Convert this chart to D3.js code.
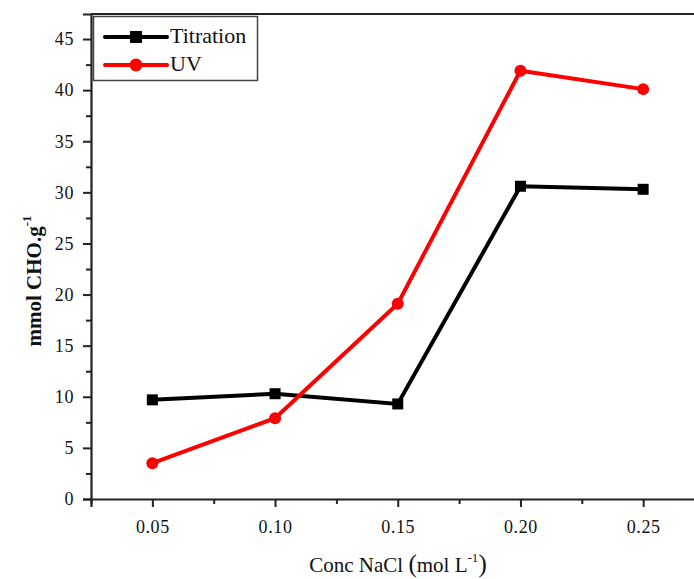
<!DOCTYPE html>
<html>
<head>
<meta charset="utf-8">
<script src="https://cdn.jsdelivr.net/npm/d3@7"></script>
<style>
  html, body { margin: 0; padding: 0; background: #fff; }
  svg { display: block; }
  text { font-family: "Liberation Serif", "Times New Roman", serif; fill: #111; }
</style>
</head>
<body>
<svg id="chart" width="694" height="579"></svg>
<script>
// NaCl concentration (mol/L)
const conc = [0.05, 0.10, 0.15, 0.20, 0.25];
// mmol CHO per g
const titration = [9.7, 10.3, 9.3, 30.6, 30.3];
const uv = [3.5, 7.9, 19.1, 41.9, 40.1];
const xTicks = [0.05, 0.10, 0.15, 0.20, 0.25];
const yTicks = [0, 5, 10, 15, 20, 25, 30, 35, 40, 45];
const seriesNames = ["Titration", "UV"];

const svg = d3.select("#chart");

const x = d3.scaleLinear().domain([0.025, 0.275]).range([91, 91 + 0.25 * 2454]);
const y = d3.scaleLinear().domain([0, 47.45]).range([499, 14]);

// frame: top edge
svg.append("line")
  .attr("x1", x(0.025)).attr("x2", x(0.275))
  .attr("y1", y(47.45)).attr("y2", y(47.45))
  .attr("stroke", "#222").attr("stroke-width", 2);

const styleTicks = g => g.selectAll(".tick text")
  .attr("font-size", 18).attr("fill", "#222")
  .style("font-family", "Liberation Serif").style("letter-spacing", "0.6px");

// x axis
svg.append("g").attr("transform", `translate(0,${y(0)})`)
  .call(d3.axisBottom(x).tickValues(xTicks).tickFormat(d3.format(".2f")).tickSize(8).tickPadding(13))
  .call(g => g.select(".domain").attr("stroke-width", 2.2).attr("stroke", "#222"))
  .call(g => g.selectAll(".tick line").attr("stroke-width", 2).attr("stroke", "#222"))
  .call(styleTicks);
svg.append("g").attr("transform", `translate(0,${y(0)})`)
  .call(d3.axisBottom(x).tickValues([0.025, 0.075, 0.125, 0.175, 0.225]).tickFormat("").tickSize(5))
  .call(g => g.select(".domain").remove())
  .call(g => g.selectAll(".tick line").attr("stroke-width", 2).attr("stroke", "#222"));

// y axis
svg.append("g").attr("transform", `translate(${x(0.025)},0)`)
  .call(d3.axisLeft(y).tickValues(yTicks).tickSize(8).tickPadding(9))
  .call(g => g.select(".domain").attr("stroke-width", 2.2).attr("stroke", "#222"))
  .call(g => g.selectAll(".tick line").attr("stroke-width", 2).attr("stroke", "#222"))
  .call(styleTicks);
svg.append("g").attr("transform", `translate(${x(0.025)},0)`)
  .call(d3.axisLeft(y).tickValues(d3.range(2.5, 47.5, 5)).tickFormat("").tickSize(5))
  .call(g => g.select(".domain").remove())
  .call(g => g.selectAll(".tick line").attr("stroke-width", 2).attr("stroke", "#222"));

// axis titles
const xt = svg.append("text")
  .attr("x", 398).attr("y", 572)
  .attr("text-anchor", "middle")
  .attr("font-size", 21);
xt.append("tspan").text("Conc NaCl ");
xt.append("tspan").attr("font-size", 25).text("(");
xt.append("tspan").text("mol L");
xt.append("tspan").attr("font-size", 13).attr("dy", -10).text("-1");
xt.append("tspan").attr("font-size", 25).attr("dy", 10).text(")");

const yt = svg.append("text")
  .attr("transform", "translate(41,281) rotate(-90)")
  .attr("text-anchor", "middle")
  .attr("font-size", 21).attr("font-weight", "bold");
yt.append("tspan").text("mmol CHO.g");
yt.append("tspan").attr("font-size", 13).attr("dy", -10).text("-1");

// series
const line = d3.line().x((d, i) => x(conc[i])).y(d => y(d));
svg.append("path").datum(titration)
  .attr("d", line).attr("fill", "none").attr("stroke", "#000").attr("stroke-width", 4);
svg.append("path").datum(uv)
  .attr("d", line).attr("fill", "none").attr("stroke", "#f00").attr("stroke-width", 4);

svg.selectAll(".sq").data(titration).join("rect")
  .attr("x", (d, i) => x(conc[i]) - 5.5).attr("y", d => y(d) - 5.5)
  .attr("width", 11).attr("height", 11).attr("fill", "#000");
svg.selectAll(".ci").data(uv).join("circle")
  .attr("cx", (d, i) => x(conc[i])).attr("cy", d => y(d))
  .attr("r", 6).attr("fill", "#f00");

// legend
const lg = svg.append("g");
lg.append("rect").attr("x", 93.5).attr("y", 16.5).attr("width", 164).attr("height", 64)
  .attr("fill", "#fff").attr("stroke", "#444").attr("stroke-width", 1.5);
const rows = [
  { name: seriesNames[0], color: "#000", shape: "square", yy: 37 },
  { name: seriesNames[1], color: "#f00", shape: "circle", yy: 65 }
];
rows.forEach(r => {
  lg.append("line").attr("x1", 105).attr("x2", 167).attr("y1", r.yy).attr("y2", r.yy)
    .attr("stroke", r.color).attr("stroke-width", 4).attr("stroke-linecap", "round");
  if (r.shape === "square") {
    lg.append("rect").attr("x", 130).attr("y", r.yy - 6).attr("width", 12).attr("height", 12).attr("fill", r.color);
  } else {
    lg.append("circle").attr("cx", 136).attr("cy", r.yy).attr("r", 6.5).attr("fill", r.color);
  }
  lg.append("text").attr("x", 170).attr("y", r.yy + 6).attr("font-size", 22).text(r.name);
});
</script>
</body>
</html>
